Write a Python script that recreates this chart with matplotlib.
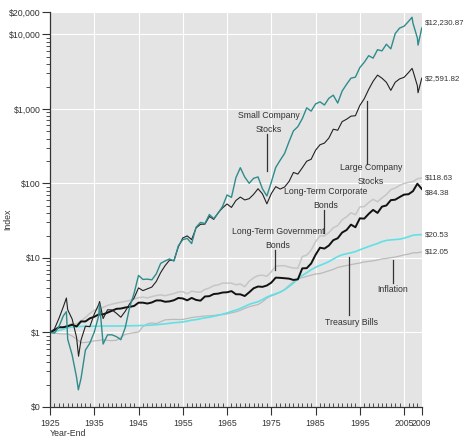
import numpy as np
import matplotlib
matplotlib.use("Agg")
import matplotlib.pyplot as plt
from matplotlib.ticker import FixedLocator, NullFormatter

plt.rcParams['font.family'] = ['Liberation Sans Narrow', 'Liberation Sans', 'DejaVu Sans']
plt.rcParams['font.size'] = 6.3

# year-end index values, $1 invested at year-end 1925
years = np.arange(1925, 2010)

small = [1.00, 0.98, 1.19, 1.67, 0.81, 0.50, 0.25, 0.24, 0.58, 0.72,
         1.01, 1.67, 0.70, 0.93, 0.93, 0.88, 0.80, 1.16, 2.18, 3.36,
         5.83, 5.15, 5.20, 5.09, 6.10, 8.46, 9.12, 9.71, 9.08, 14.6,
         17.6, 18.3, 15.6, 25.8, 30.0, 29.0, 38.3, 33.8, 40.0, 49.4,
         70.0, 65.1, 119.5, 162.5, 121.8, 100.6, 117.2, 122.4, 84.6, 68.0,
         104.0, 164.0, 205.0, 253.0, 363.0, 508.0, 579.0, 741.0, 1035.0, 935.0,
         1166.0, 1246.0, 1130.0, 1389.0, 1530.0, 1200.0, 1736.0, 2141.0, 2590.0, 2671.0,
         3591.0, 4224.0, 5186.0, 4807.0, 6239.0, 6015.0, 7385.0, 6404.0, 10291.0, 12183.0,
         12876.0, 14958.0, 14177.0, 8971.0, 12230.87]

large = [1.00, 1.116, 1.535, 2.204, 2.018, 1.516, 0.859, 0.789, 1.214, 1.197,
         1.767, 2.367, 1.538, 2.016, 2.008, 1.812, 1.602, 1.927, 2.427, 2.906,
         3.965, 3.645, 3.853, 4.065, 4.829, 6.360, 7.888, 9.336, 9.244, 14.108,
         18.561, 19.778, 17.646, 25.298, 28.322, 28.455, 36.106, 32.954, 40.469, 47.139,
         53.008, 47.674, 59.104, 65.642, 60.059, 62.465, 71.406, 84.956, 72.500, 53.311,
         73.144, 90.584, 84.077, 89.592, 106.113, 140.514, 133.616, 162.223, 198.745, 211.199,
         279.117, 330.671, 347.967, 406.458, 534.455, 517.499, 675.592, 727.412, 800.078, 810.538,
         1113.918, 1370.946, 1828.326, 2350.892, 2845.629, 2586.524, 2279.127, 1775.341, 2284.785, 2533.370,
         2657.716, 3077.502, 3246.624, 2049.5, 2591.82]

corp_bonds = [1.00, 1.074, 1.154, 1.186, 1.225, 1.323, 1.299, 1.439, 1.588, 1.808,
              1.982, 2.116, 2.174, 2.307, 2.399, 2.480, 2.548, 2.614, 2.688, 2.815,
              2.930, 2.980, 2.911, 3.031, 3.132, 3.198, 3.112, 3.222, 3.331, 3.501,
              3.532, 3.301, 3.582, 3.505, 3.467, 3.782, 3.952, 4.256, 4.348, 4.610,
              4.59, 4.60, 4.37, 4.48, 4.12, 4.87, 5.41, 5.80, 5.87, 5.69,
              6.52, 7.74, 7.87, 7.87, 7.54, 7.33, 7.26, 10.44, 10.93, 12.72,
              16.55, 19.83, 19.77, 21.89, 25.44, 27.17, 32.57, 35.63, 40.33, 38.01,
              48.35, 49.02, 55.37, 61.33, 56.76, 64.07, 70.90, 82.48, 86.83, 94.40,
              99.94, 103.18, 105.86, 115.15, 118.63]

gov_bonds = [1.00, 1.078, 1.174, 1.175, 1.215, 1.272, 1.204, 1.407, 1.406, 1.547,
             1.624, 1.746, 1.750, 1.847, 1.957, 2.076, 2.095, 2.163, 2.207, 2.270,
             2.513, 2.511, 2.445, 2.528, 2.691, 2.690, 2.584, 2.614, 2.708, 2.904,
             2.862, 2.700, 2.910, 2.734, 2.673, 3.041, 3.070, 3.282, 3.322, 3.438,
             3.463, 3.589, 3.259, 3.251, 3.086, 3.460, 3.917, 4.140, 4.094, 4.272,
             4.665, 5.447, 5.410, 5.346, 5.280, 5.071, 5.166, 7.251, 7.298, 8.427,
             11.037, 13.745, 13.372, 14.665, 17.322, 18.392, 21.942, 23.709, 28.034, 25.856,
             34.044, 33.727, 39.074, 44.178, 40.218, 48.856, 50.662, 59.699, 60.56, 65.71,
             70.85, 71.69, 78.77, 99.15, 84.38]

tbills = [1.00, 1.033, 1.065, 1.103, 1.155, 1.183, 1.196, 1.207, 1.211, 1.213,
          1.215, 1.217, 1.221, 1.221, 1.221, 1.221, 1.222, 1.225, 1.229, 1.233,
          1.237, 1.242, 1.248, 1.258, 1.272, 1.287, 1.306, 1.328, 1.352, 1.364,
          1.385, 1.419, 1.464, 1.486, 1.530, 1.571, 1.604, 1.648, 1.700, 1.760,
          1.829, 1.916, 1.997, 2.101, 2.239, 2.385, 2.490, 2.585, 2.764, 2.986,
          3.159, 3.319, 3.489, 3.740, 4.128, 4.592, 5.267, 5.822, 6.335, 6.959,
          7.496, 7.958, 8.393, 8.926, 9.673, 10.429, 11.012, 11.398, 11.730, 12.186,
          12.868, 13.538, 14.250, 14.942, 15.641, 16.563, 17.197, 17.480, 17.659, 17.871,
          18.416, 19.287, 20.177, 20.479, 20.53]

inflation = [1.00, 0.985, 0.964, 0.955, 0.957, 0.899, 0.814, 0.730, 0.734, 0.749,
             0.771, 0.780, 0.804, 0.782, 0.778, 0.786, 0.862, 0.942, 0.972, 0.993,
             1.015, 1.199, 1.307, 1.343, 1.318, 1.395, 1.477, 1.490, 1.499, 1.492,
             1.497, 1.540, 1.587, 1.615, 1.639, 1.663, 1.674, 1.695, 1.723, 1.743,
             1.777, 1.836, 1.892, 1.981, 2.102, 2.218, 2.292, 2.371, 2.579, 2.894,
             3.097, 3.246, 3.466, 3.778, 4.281, 4.812, 5.242, 5.445, 5.652, 5.875,
             6.097, 6.166, 6.438, 6.722, 7.034, 7.464, 7.693, 7.916, 8.133, 8.351,
             8.563, 8.847, 8.998, 9.143, 9.389, 9.707, 9.857, 10.091, 10.281, 10.624,
             10.992, 11.264, 11.725, 11.734, 12.05]

# intra-year extremes (time, value)
small_extra = [(1928.7, 1.9), (1931.4, 0.17), (1936.2, 2.4),
               (2006.8, 17000.0), (2008.15, 7200.0)]
large_extra = [(1928.7, 2.9), (1931.45, 0.48), (1936.2, 2.6),
               (2006.8, 3500.0), (2008.15, 1650.0)]

end_labels = ['$12,230.87', '$2,591.82', '$118.63', '$84.38', '$20.53', '$12.05']


def merge(vals, extra):
    t = np.concatenate([years, [e[0] for e in extra]])
    v = np.concatenate([vals, [e[1] for e in extra]])
    o = np.argsort(t)
    return t[o], v[o]


fig = plt.figure(figsize=(4.63, 4.38), dpi=100)
ax = fig.add_axes([0.108, 0.0708, 0.803, 0.9018])
ax.set_facecolor('#e4e4e4')

ax.plot(years, inflation, color='#bababa', lw=0.9)
ax.plot(years, tbills, color='#62e0e6', lw=1.2)
ax.plot(years, corp_bonds, color='#c6c6c6', lw=1.1)
ax.plot(years, gov_bonds, color='#111111', lw=1.4)
t, v = merge(large, large_extra)
ax.plot(t, v, color='#222222', lw=0.8)
t, v = merge(small, small_extra)
ax.plot(t, v, color='#2f8c8c', lw=1.0)

ax.set_yscale('log')
ax.set_xlim(1925, 2009)
ax.set_ylim(0.1, 20000)

ax.yaxis.set_major_locator(FixedLocator([0.1, 1, 10, 100, 1000, 10000, 20000]))
ax.set_yticklabels(['$0', '$1', '$10', '$100', '$1,000', '$10,000', '$20,000'])
minor = [m * 10.0 ** e for e in range(-1, 4) for m in range(2, 10)]
ax.yaxis.set_minor_locator(FixedLocator(minor))
ax.yaxis.set_minor_formatter(NullFormatter())

xt = list(range(1925, 2006, 10)) + [2009]
ax.set_xticks(xt)
ax.set_xticklabels([str(x) for x in xt])
ax.xaxis.set_minor_locator(FixedLocator(range(1925, 2010)))

ax.tick_params(axis='both', which='major', length=6, width=0.8, color='#333333',
               labelcolor='#333333', labelsize=6.3)
ax.tick_params(axis='y', which='minor', length=3, width=0.6, color='#333333')
ax.tick_params(axis='x', which='minor', direction='in', length=3, width=0.6, color='#333333')
ax.tick_params(axis='x', which='major', pad=3)
ax.tick_params(axis='y', which='major', pad=1)

for s in ['top', 'right']:
    ax.spines[s].set_visible(False)
for s in ['left', 'bottom']:
    ax.spines[s].set_color('#333333')
    ax.spines[s].set_linewidth(0.9)

ax.grid(True, which='major', color='white', lw=0.8)
ax.set_axisbelow(True)

# end-value labels
ends = [small[-1], large[-1], corp_bonds[-1], gov_bonds[-1], tbills[-1], inflation[-1]]
offs = [4, 0, 0, -3, 0, 0]
for val, lab, dy in zip(ends, end_labels, offs):
    ax.annotate(lab, (2009, val), xytext=(2, dy), textcoords='offset points',
                va='center', ha='left', color='#333333', fontsize=5.7, annotation_clip=False)

# series captions with leader lines
captions = [
    ('Small Company\nStocks', 1974.4, 650, 1974.0, 464, 149),
    ('Large Company\nStocks', 1997.5, 132, 1996.6, 1279, 185),
    ('Long-Term Corporate\nBonds', 1987.3, 63, 1986.85, 43.7, 21.5),
    ('Long-Term Government\nBonds', 1976.5, 18.5, 1975.8, 12.8, 6.9),
    ('Treasury Bills', 1993.2, 1.36, 1992.5, 10.3, 1.74),
    ('Inflation', 2002.4, 3.74, 2002.4, 9.4, 4.64),
]
for txt, tx, ty, lx, y0, y1 in captions:
    ax.text(tx, ty, txt, ha='center', va='center', color='#333333', fontsize=6.3,
            linespacing=1.7)
    ax.plot([lx, lx], [y0, y1], color='#333333', lw=0.9)

fig.text(0.017, 0.50, 'Index', rotation=90, ha='center', va='center',
         color='#333333', fontsize=6.3)
fig.text(0.108, 0.01, 'Year-End', ha='left', va='center', color='#333333', fontsize=6.3)

fig.savefig('out.png', dpi=100)
